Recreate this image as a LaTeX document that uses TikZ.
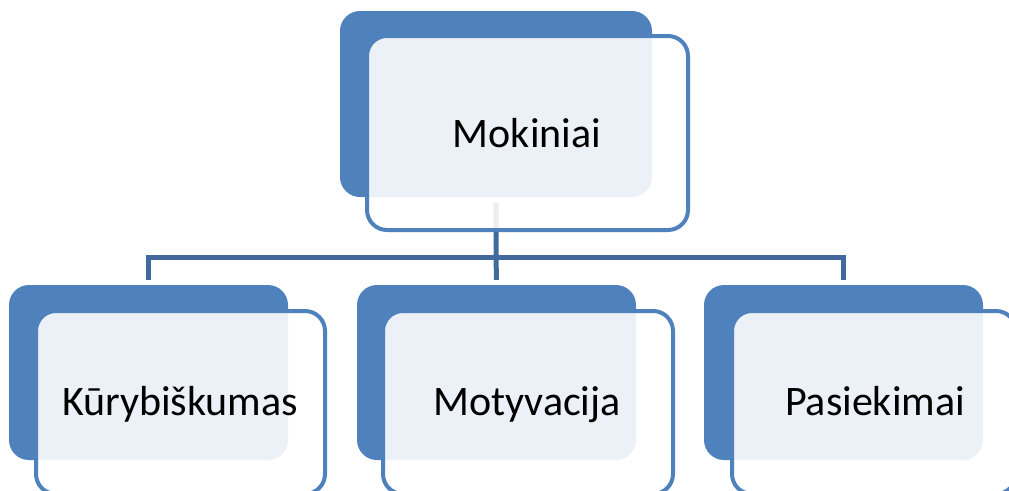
\documentclass[tikz,border=0pt]{standalone}
\usepackage{fontspec}
\setmainfont{Carlito}
\definecolor{accblue}{HTML}{4F81BD}
\definecolor{connblue}{HTML}{41699B}
\begin{document}
\begin{tikzpicture}[x=1pt,y=-1pt,
  backbox/.style={rectangle, rounded corners=20pt, fill=accblue, draw=none, inner sep=0pt},
  frontfill/.style={rectangle, rounded corners=20pt, fill=white, fill opacity=0.89, draw=none, inner sep=0pt},
  frontline/.style={rectangle, rounded corners=20pt, draw=accblue, line width=4pt, inner sep=0pt},
  lbl/.style={anchor=base, inner sep=0pt, font=\fontsize{42}{50}\selectfont, text=black},
  conn/.style={draw=connblue, line width=5pt}
]
\useasboundingbox (0,0) rectangle (1009,490);
\begin{scope}
\clip (0,0) rectangle (1009,490);
% back boxes
\node[backbox, minimum width=312pt, minimum height=186pt] (mokb) at (496,104) {};
\node[backbox, minimum width=279pt, minimum height=175pt] (b1b) at (148.5,372.5) {};
\node[backbox, minimum width=279pt, minimum height=175pt] (b2b) at (496.5,372.5) {};
\node[backbox, minimum width=279pt, minimum height=175pt] (b3b) at (843.5,372.5) {};
% connectors
\coordinate (hub) at (496,257);
\draw[conn] ([yshift=-6pt]mokb.south) -- (hub) -- ([yshift=5pt]b2b.north);
\draw[conn] ([yshift=5pt]b1b.north) |- (hub) -| ([yshift=5pt]b3b.north);
% front boxes
\node[frontfill, minimum width=321pt, minimum height=194pt] (mokf) at (527.5,133) {};
\node[frontfill, minimum width=289pt, minimum height=183pt] (b1f) at (180.5,402.5) {};
\node[frontfill, minimum width=290pt, minimum height=183pt] (b2f) at (528,402.5) {};
\node[frontfill, minimum width=284pt, minimum height=183pt] (b3f) at (874,402.5) {};
\node[frontline, minimum width=321pt, minimum height=194pt] (mokl) at (mokf) {};
\node[frontline, minimum width=289pt, minimum height=183pt] (b1l) at (b1f) {};
\node[frontline, minimum width=290pt, minimum height=183pt] (b2l) at (b2f) {};
\node[frontline, minimum width=284pt, minimum height=183pt] (b3l) at (b3f) {};
% labels
\node[lbl] (t0) at (527,147) {Mokiniai};
\node[lbl] (t1) at (180,415) {Kūrybiškumas};
\node[lbl] (t2) at (527,415) {Motyvacija};
\node[lbl] (t3) at (875,415) {Pasiekimai};
\end{scope}
\end{tikzpicture}
\end{document}
